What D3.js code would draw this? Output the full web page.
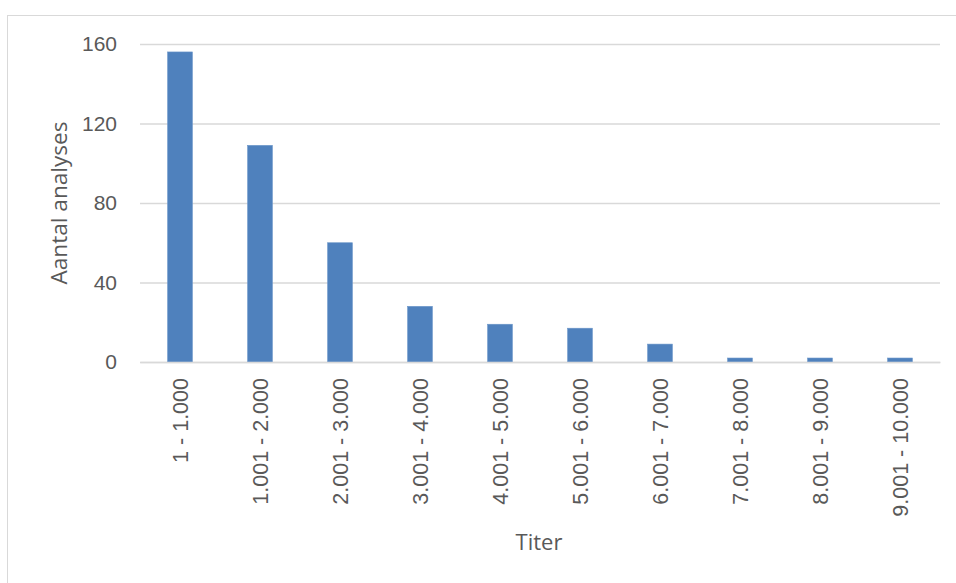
<!DOCTYPE html>
<html><head><meta charset="utf-8">
<script src="https://cdn.jsdelivr.net/npm/d3@7"></script>
<style>body{margin:0;background:#fff}</style></head>
<body><svg id="c" width="956" height="583"></svg>
<script>
const categories = ["1 - 1.000","1.001 - 2.000","2.001 - 3.000","3.001 - 4.000","4.001 - 5.000","5.001 - 6.000","6.001 - 7.000","7.001 - 8.000","8.001 - 9.000","9.001 - 10.000"];
const values = [156,109,60,28,19,17,9,2,2,2];
const yTicks = [0,40,80,120,160];
const xTitle = "Titer";
const yTitle = "Aantal analyses";

const svg = d3.select("#c");
const font = "'Liberation Sans', Arial, sans-serif";
const tfont = "'Open Sans', sans-serif";
svg.append("rect").attr("x",7.5).attr("y",15.5).attr("width",960).attr("height",600)
  .attr("fill","#fff").attr("stroke","#d9d9d9").attr("stroke-width",1);

const m = {left:140, right:940, top:44, bottom:362};
const x = d3.scaleBand().domain(categories).range([m.left,m.right]).paddingInner(0.69).paddingOuter(0.345);
const y = d3.scaleLinear().domain([0,160]).range([m.bottom,m.top]);

const gy = svg.append("g").attr("transform",`translate(${m.left},0)`)
  .call(d3.axisLeft(y).tickValues(yTicks).tickSize(-(m.right-m.left)).tickPadding(23));
gy.select(".domain").remove();
gy.selectAll(".tick line").attr("stroke","#d9d9d9").attr("stroke-width",1.3);
gy.selectAll(".tick text").attr("fill","#595959").attr("font-size",21).attr("font-family",font);

svg.append("g").selectAll("rect").data(values).join("rect")
  .attr("x",(d,i)=>x(categories[i])).attr("width",x.bandwidth())
  .attr("y",d=>y(d)).attr("height",d=>y(0)-y(d))
  .attr("fill","#4f81bd").attr("stroke","#6a95c8").attr("stroke-width",0.6);

const gx = svg.append("g").attr("transform",`translate(0,${m.bottom})`)
  .call(d3.axisBottom(x).tickSize(0).tickPadding(0));
gx.select(".domain").attr("stroke","#d9d9d9").attr("stroke-width",1.3);
gx.selectAll(".tick text").attr("fill","#595959").attr("font-size",21.5).attr("font-family",font)
  .attr("text-anchor","end").attr("dy","0.35em")
  .attr("transform","translate(0,16) rotate(-90)");

svg.append("text").attr("x",539).attr("y",550).attr("text-anchor","middle")
  .attr("fill","#595959").attr("font-size",22).attr("font-family",tfont).text(xTitle);
svg.append("text").attr("transform","translate(67,203) rotate(-90)").attr("text-anchor","middle")
  .attr("fill","#595959").attr("font-size",22.6).attr("font-family",tfont).text(yTitle);
</script></body></html>
